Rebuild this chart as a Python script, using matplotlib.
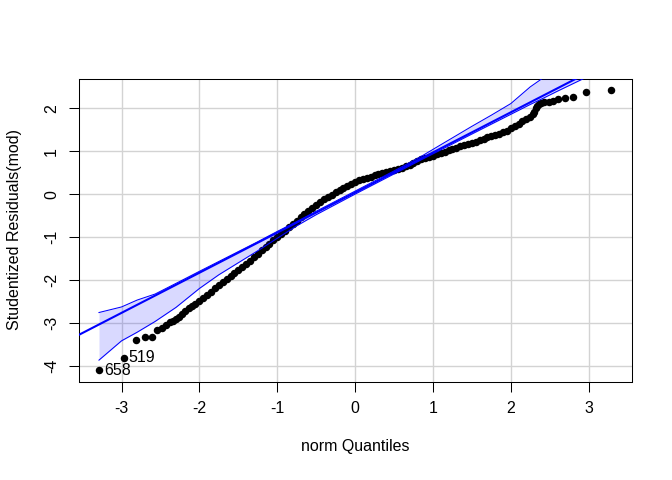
import matplotlib
matplotlib.use("Agg")
import matplotlib.pyplot as plt

plt.rcParams['font.family'] = ['Liberation Sans', 'DejaVu Sans']

# sorted studentized residuals: norm quantile (x) and residual (y)
qx = [-3.29, -2.97, -2.81, -2.70, -2.61, -2.54, -2.48, -2.43, -2.38, -2.34,
      -2.30, -2.26, -2.22, -2.18, -2.14, -2.10, -2.06, -2.00, -1.95, -1.90,
      -1.85, -1.80, -1.75, -1.70, -1.65, -1.60, -1.55, -1.50, -1.45, -1.40,
      -1.35, -1.30, -1.25, -1.20, -1.15, -1.10, -1.05, -1.00, -0.95, -0.90,
      -0.85, -0.80, -0.75, -0.70, -0.65, -0.60, -0.55, -0.50, -0.45, -0.40,
      -0.35, -0.30, -0.25, -0.20, -0.15, -0.10, -0.05, 0.00, 0.05, 0.10,
      0.15, 0.20, 0.25, 0.30, 0.35, 0.40, 0.45, 0.50, 0.55, 0.60,
      0.65, 0.70, 0.75, 0.80, 0.85, 0.90, 0.95, 1.00, 1.05, 1.10,
      1.15, 1.20, 1.25, 1.30, 1.35, 1.40, 1.45, 1.50, 1.55, 1.60,
      1.65, 1.70, 1.75, 1.80, 1.85, 1.90, 1.95, 2.00, 2.05, 2.10,
      2.15, 2.20, 2.25, 2.28, 2.30, 2.32, 2.34, 2.36, 2.39, 2.43,
      2.49, 2.54, 2.61, 2.69, 2.80, 2.96, 3.29]
resid = [-4.10, -3.81, -3.40, -3.34, -3.34, -3.17, -3.11, -3.04, -2.99, -2.95,
         -2.91, -2.86, -2.80, -2.73, -2.66, -2.60, -2.55, -2.48, -2.42, -2.35,
         -2.28, -2.20, -2.13, -2.06, -1.99, -1.92, -1.84, -1.77, -1.70, -1.62,
         -1.55, -1.47, -1.39, -1.31, -1.23, -1.16, -1.08, -1.01, -0.93, -0.85,
         -0.77, -0.70, -0.62, -0.54, -0.46, -0.39, -0.32, -0.25, -0.18, -0.12,
         -0.07, -0.02, 0.04, 0.09, 0.14, 0.19, 0.23, 0.28, 0.32, 0.35,
         0.38, 0.41, 0.44, 0.47, 0.49, 0.51, 0.53, 0.56, 0.59, 0.62,
         0.66, 0.69, 0.73, 0.77, 0.81, 0.84, 0.87, 0.90, 0.93, 0.96,
         0.99, 1.02, 1.05, 1.08, 1.11, 1.14, 1.17, 1.19, 1.22, 1.25,
         1.29, 1.32, 1.35, 1.38, 1.41, 1.44, 1.48, 1.53, 1.58, 1.64,
         1.70, 1.75, 1.80, 1.86, 1.92, 2.00, 2.06, 2.11, 2.13, 2.14,
         2.14, 2.17, 2.21, 2.23, 2.26, 2.39, 2.43]

# labelled outliers
lab_names = ["658", "519"]
lab_x = [-3.29, -2.97]
lab_y = [-4.10, -3.81]

# reference line (robust fit)
line_intercept = 0.037
line_slope = 0.935

# pointwise confidence envelope
env_x = [-3.29, -3.0, -2.8, -2.57, -2.3, -2.0, -1.75, -1.5, -1.25, -1.0,
         -0.75, -0.5, 0.0, 0.5, 0.85, 1.1, 1.5, 1.75, 2.0, 2.25,
         2.4, 2.6, 3.0, 3.29]
env_upper = [-2.76, -2.63, -2.47, -2.33, -2.08, -1.80, -1.57, -1.34, -1.11, -0.87,
             -0.64, -0.40, 0.07, 0.54, 0.88, 1.15, 1.58, 1.84, 2.11, 2.50,
             2.69, 2.95, 3.45, 3.85]
env_lower = [-3.87, -3.42, -3.22, -2.97, -2.64, -2.20, -1.88, -1.60, -1.32, -1.03,
             -0.74, -0.48, 0.00, 0.47, 0.80, 1.03, 1.40, 1.63, 1.86, 2.09,
             2.22, 2.40, 2.75, 3.00]

xticks = [-3, -2, -1, 0, 1, 2, 3]
yticks = [-4, -3, -2, -1, 0, 1, 2]

fig = plt.figure(figsize=(6.72, 4.8), dpi=100)
ax = fig.add_axes([78.5 / 672, 1 - 381.5 / 480, (631.7 - 78.5) / 672, (381.5 - 78.5) / 480])

ax.set_xlim(-3.553, 3.553)
ax.set_ylim(-4.368, 2.695)

# grid
for t in xticks:
    ax.axvline(t, color='#D3D3D3', lw=1, zorder=0)
for t in yticks:
    ax.axhline(t, color='#D3D3D3', lw=1, zorder=0)

ax.plot(qx, resid, 'o', color='black', markersize=5.4, markeredgewidth=0, zorder=2)

ax.axline((0, line_intercept), slope=line_slope, color='blue', lw=1.5, zorder=4)
ax.fill_between(env_x, env_lower, env_upper, color='blue', alpha=0.15, lw=0, zorder=3)
ax.plot(env_x, env_upper, color='blue', lw=0.75, zorder=4)
ax.plot(env_x, env_lower, color='blue', lw=0.75, zorder=4)

for name, x, y in zip(lab_names, lab_x, lab_y):
    ax.annotate(name, (x, y), xytext=(3.5, 0), textcoords='offset points',
                ha='left', va='center', fontsize=11.5)

ax.set_xticks(xticks)
ax.set_yticks(yticks)
ax.set_xticklabels([str(t) for t in xticks])
ax.set_yticklabels([str(t) for t in yticks])
ax.tick_params(axis='both', length=6.9, width=0.75, labelsize=11.5, pad=7)
plt.setp(ax.get_yticklabels(), rotation=90, va='center')

ax.set_xlabel('norm Quantiles', fontsize=11.5, labelpad=17)
ax.set_ylabel('Studentized Residuals(mod)', fontsize=11.5, labelpad=16)

for s in ax.spines.values():
    s.set_color('black')
    s.set_linewidth(0.75)

fig.savefig('out.png', dpi=100)
